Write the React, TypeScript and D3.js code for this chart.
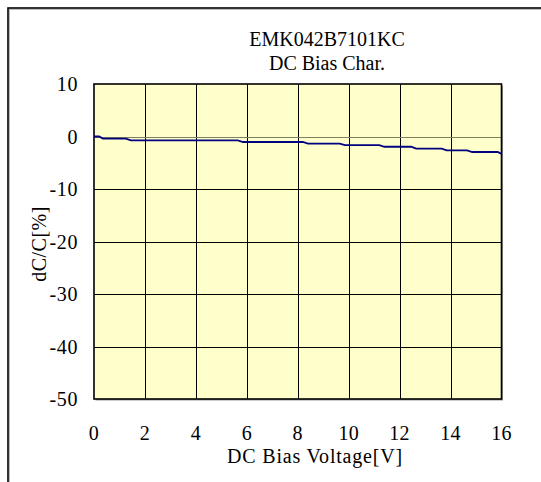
import React from 'react';
import * as d3 from 'd3';

// DC bias characteristic
const voltage = [0, 0.2, 0.35, 1.25, 1.45, 5.65, 5.85, 8.2, 8.4, 9.65, 9.85, 11.2, 11.4, 12.45, 12.65, 13.65, 13.85, 14.65, 14.85, 15.85, 16];
const dcdc = [0, 0, -0.4, -0.4, -0.75, -0.75, -1.05, -1.05, -1.35, -1.35, -1.65, -1.65, -1.95, -1.95, -2.3, -2.3, -2.65, -2.65, -2.95, -2.95, -3.3];

const xTicks = [0, 2, 4, 6, 8, 10, 12, 14, 16];
const yTicks = [10, 0, -10, -20, -30, -40, -50];
const titleLines = ['EMK042B7101KC', 'DC Bias Char.'];

const width = 541;
const height = 482;
const plot = { left: 94, right: 501.5, top: 84, bottom: 399 };
const font = '"Liberation Serif", "Times New Roman", serif';

const App: React.FC = () => {
  const x = d3.scaleLinear().domain([0, 16]).range([plot.left, plot.right]);
  const y = d3.scaleLinear().domain([-50, 10]).range([plot.bottom, plot.top]);

  const line = d3.line<number>()
    .x((_, i) => x(voltage[i]))
    .y((d) => y(d));

  return (
    <svg
      width={width}
      height={height}
      style={{ position: 'absolute', left: 0, top: 0, background: '#fff' }}
      fontFamily={font}
    >
      {/* outer frame, runs off the page at right and bottom */}
      <rect x={9.5} y={9.5} width={700} height={700} fill="none" stroke="#bbb" strokeWidth={1} />
      <rect x={8} y={8} width={700} height={700} fill="none" stroke="#000" strokeWidth={1.6} />

      {/* plot background */}
      <rect x={plot.left + 1.5} y={plot.top + 1.5} width={plot.right - plot.left} height={plot.bottom - plot.top} fill="#999" />
      <rect x={plot.left} y={plot.top} width={plot.right - plot.left} height={plot.bottom - plot.top} fill="#ffffcc" />

      {/* grid */}
      {xTicks.slice(1, -1).map((t) => (
        <line key={'gx' + t} x1={Math.round(x(t)) + 0.5} x2={Math.round(x(t)) + 0.5} y1={plot.top} y2={plot.bottom} stroke="#000" strokeWidth={1} />
      ))}
      {yTicks.slice(1, -1).map((t) => (
        <line key={'gy' + t} x1={plot.left} x2={plot.right} y1={Math.round(y(t)) + 0.5} y2={Math.round(y(t)) + 0.5} stroke={t === 0 ? '#808060' : '#000'} strokeWidth={1} />
      ))}
      <rect x={plot.left} y={plot.top} width={plot.right - plot.left} height={plot.bottom - plot.top} fill="none" stroke="#000" strokeWidth={1.6} />

      {/* data */}
      <path d={line(dcdc) ?? ''} fill="none" stroke="#000080" strokeWidth={1.8} />

      {/* title */}
      {titleLines.map((t, i) => (
        <text key={t} x={327} y={46 + i * 24} textAnchor="middle" fontSize={20} fill="#000">{t}</text>
      ))}

      {/* y tick labels */}
      {yTicks.map((t) => (
        <text key={'yl' + t} x={78} y={y(t) + 7} textAnchor="end" fontSize={20} letterSpacing={0.6} fill="#000">{t}</text>
      ))}

      {/* x tick labels */}
      {xTicks.map((t) => (
        <text key={'xl' + t} x={x(t)} y={440} textAnchor="middle" fontSize={20} letterSpacing={0.3} fill="#000">{t}</text>
      ))}

      {/* axis titles */}
      <text x={315} y={463} textAnchor="middle" fontSize={20} letterSpacing={0.8} fill="#000">DC Bias Voltage[V]</text>
      <text transform={`translate(46, ${244}) rotate(-90)`} textAnchor="middle" fontSize={20} letterSpacing={0.5} fill="#000">dC/C[%]</text>
    </svg>
  );
};

export default App;
